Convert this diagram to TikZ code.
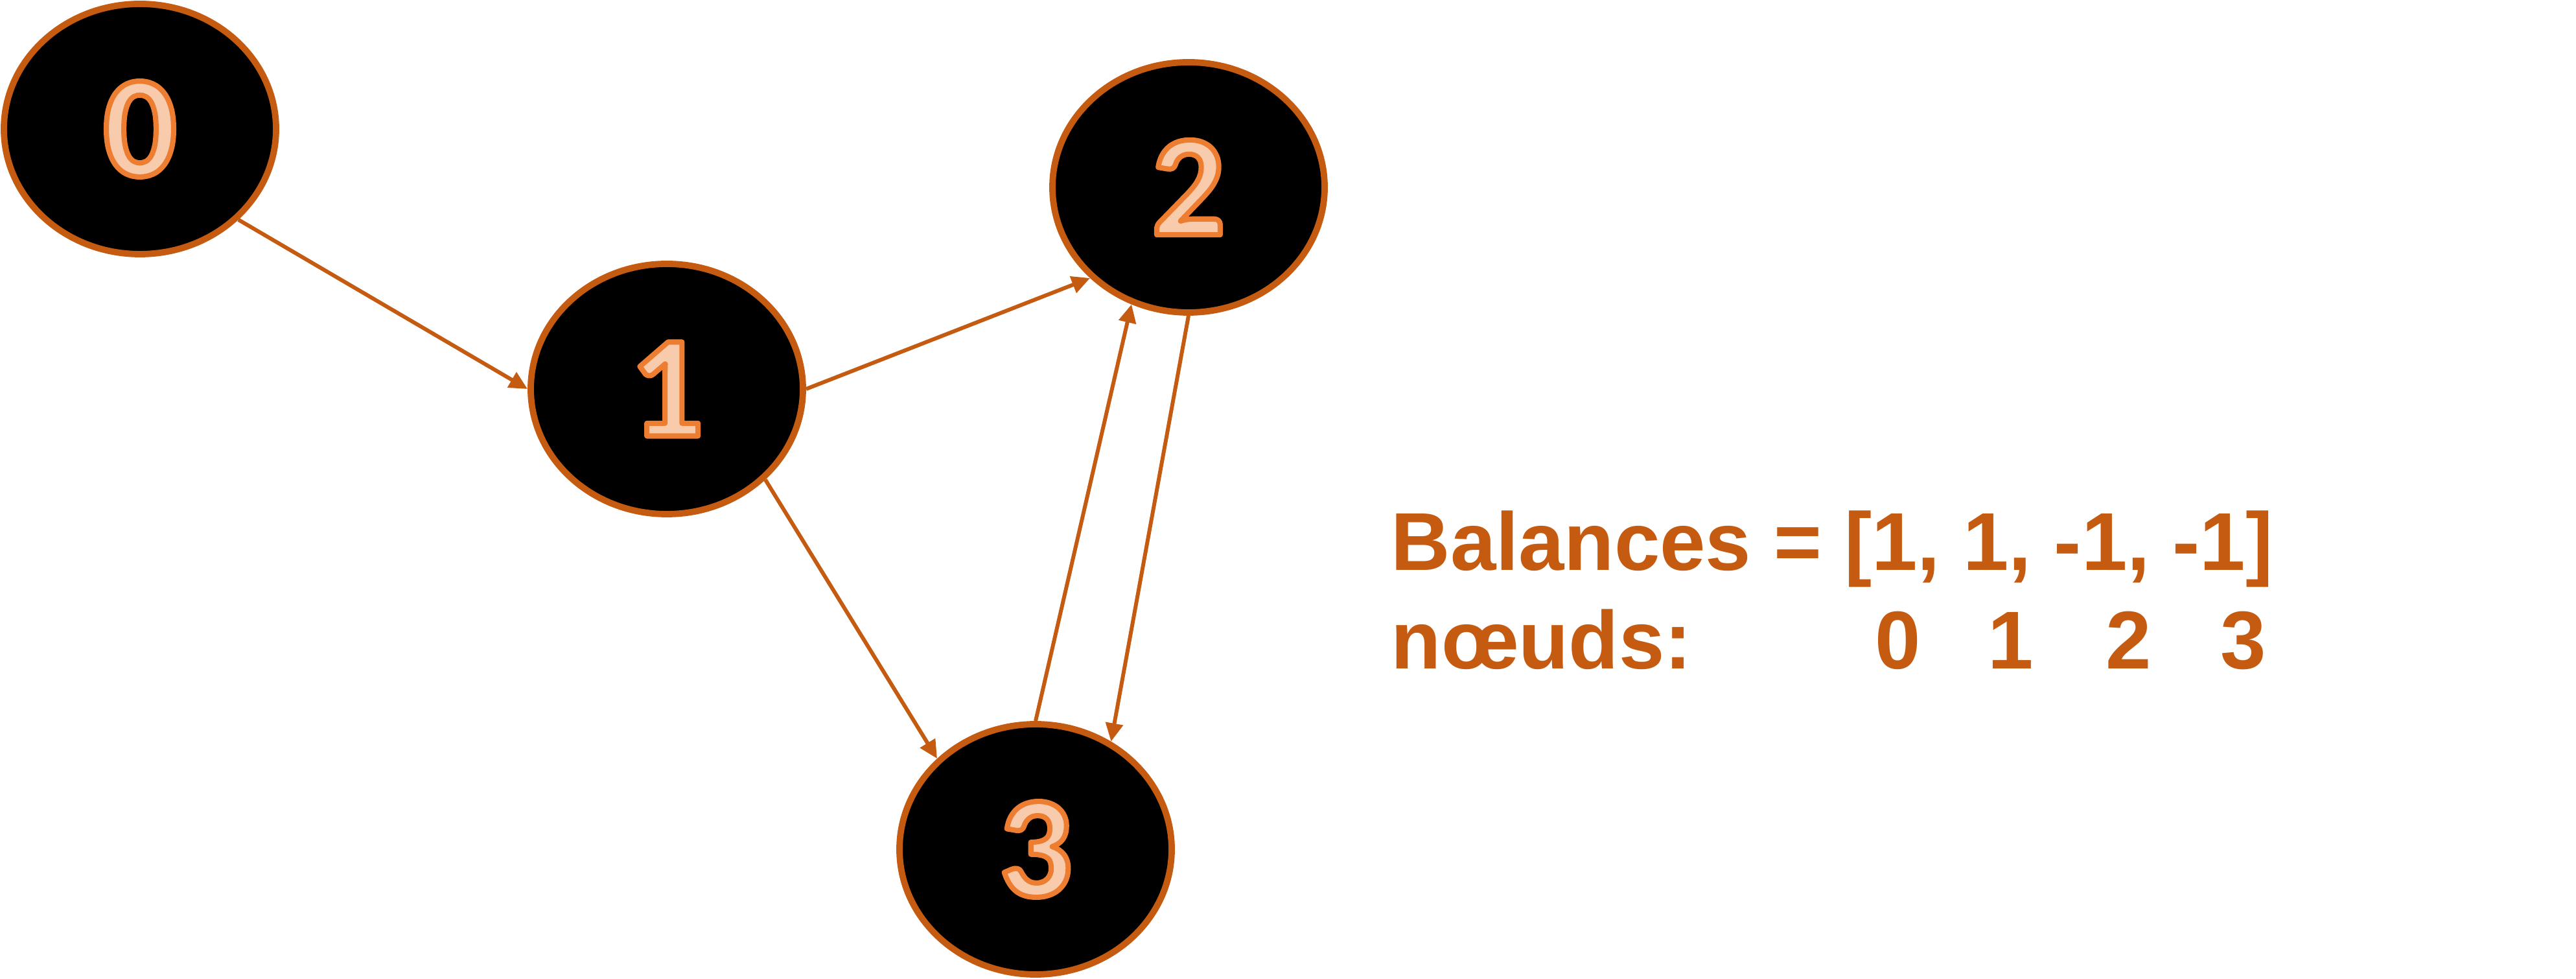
\documentclass[tikz,border=0pt]{standalone}
\usepackage{fontspec}
\usetikzlibrary{arrows.meta,shapes.geometric}
\setmainfont{Liberation Sans}
\newfontfamily\numfont{Carlito}
\definecolor{rust}{HTML}{C55A11}
\definecolor{peach}{HTML}{F8CBAD}
\definecolor{tang}{HTML}{ED7D31}
\newcommand{\lbl}[1]{\special{pdf:literal direct 0.929 0.490 0.192 RG 2.3 w 1 j 2 Tr}#1\special{pdf:literal direct 0 Tr}}
\tikzset{
  vertex/.style={ellipse,draw=rust,fill=black,line width=2.8pt,minimum width=4.2cm,minimum height=3.86cm,inner sep=0pt,text=peach,font=\numfont\bfseries\fontsize{63.5}{64}\selectfont},
  arc/.style={draw=rust,line width=1.7pt,-{Triangle[length=8pt,width=7.5pt]}},
  legend/.style={anchor=base west,inner sep=0pt,text=rust,font=\bfseries\fontsize{36}{40}\selectfont}
}
\begin{document}
\begin{tikzpicture}
\useasboundingbox (0,0) rectangle (39.75,15.1);
\node[vertex] (n0) at (2.16,13.11) {\lbl{0}};
\node[vertex] (n1) at (10.29,9.10) {\lbl{1}};
\node[vertex] (n2) at (18.34,12.21) {\lbl{2}};
\node[vertex] (n3) at (15.98,2.00) {\lbl{3}};
\draw[arc] (n0.south east) -- (n1.west);
\draw[arc] (n1.east) -- (n2.south west);
\draw[arc] (n1.south east) -- (n3.north west);
\draw[arc] (n3.north) -- (n2.244);
\draw[arc] (n2.south) -- (n3.55);
\node[legend] (bal) at (21.46,6.30) {Balances = [1, 1, -1, -1]};
\node[legend] (nds) at (21.46,4.78) {nœuds:};
\foreach \d/\x in {0/29.29,1/31.03,2/32.85,3/34.62}
  \node[legend,anchor=base] (d\d) at (\x,4.78) {\d};
\end{tikzpicture}
\end{document}
